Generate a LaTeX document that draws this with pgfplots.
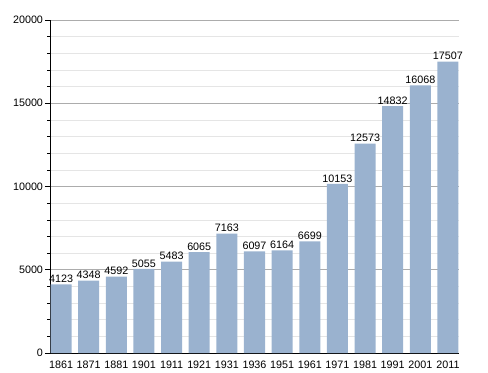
\documentclass[border=0pt]{standalone}
\usepackage{pgfplots}
\pgfplotsset{compat=1.18}
\usepackage{fontspec}
\setmainfont{Liberation Sans}
\definecolor{barc}{RGB}{154,178,207}
\begin{document}
\begin{tikzpicture}
\begin{axis}[
  scale only axis, width=409bp, height=333bp,
  xmin=-0.4, xmax=14.4, ymin=0, ymax=20000,
  axis x line=bottom, axis y line=left,
  axis line style={-, black, line width=0.8pt},
  xtick={0,...,14},
  xticklabels={1861,1871,1881,1901,1911,1921,1931,1936,1951,1961,1971,1981,1991,2001,2011},
  x tick style={draw=none},
  ytick={0,5000,10000,15000,20000},
  minor ytick={1000,2000,3000,4000,6000,7000,8000,9000,11000,12000,13000,14000,16000,17000,18000,19000},
  ymajorgrids, yminorgrids,
  major grid style={gray!65, line width=0.6pt},
  minor grid style={gray!20, line width=0.6pt},
  tick align=outside, major tick length=5bp, minor tick length=2.5bp,
  y tick style={black, line width=0.6pt},
  scaled y ticks=false,
  /pgf/number format/assume math mode=true,
  /pgf/number format/1000 sep={},
  tick label style={font=\fontsize{10.8}{12}\selectfont},
  yticklabel style={xshift=1.5bp},
  xticklabel style={yshift=1bp},
  nodes near coords,
  nodes near coords style={font=\fontsize{10.8}{12}\selectfont, inner sep=1.5bp, /pgf/number format/1000 sep={}, /pgf/number format/assume math mode=true},
  clip=false,
]
\addplot[ybar, bar width=0.76, fill=barc, draw=none] coordinates {
(0,4123) (1,4348) (2,4592) (3,5055) (4,5483) (5,6065) (6,7163) (7,6097)
(8,6164) (9,6699) (10,10153) (11,12573) (12,14832) (13,16068) (14,17507)};
\coordinate (bl) at (rel axis cs:0,0);
\coordinate (tr) at (rel axis cs:1,1);
\end{axis}
\path ([shift={(-50bp,-20bp)}]bl) rectangle ([shift={(29bp,20bp)}]tr);
\end{tikzpicture}
\end{document}
